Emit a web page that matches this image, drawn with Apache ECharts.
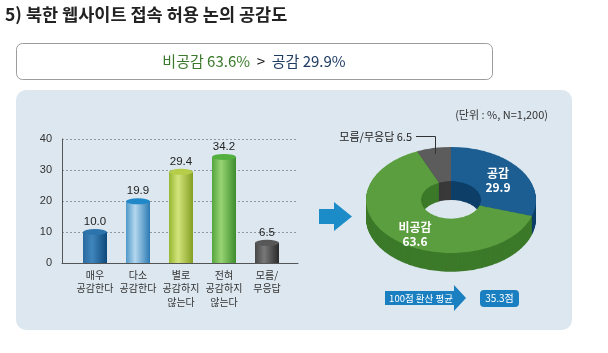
<!DOCTYPE html>
<html>
<head>
<meta charset="utf-8">
<script src="https://cdn.jsdelivr.net/npm/echarts@6/dist/echarts.min.js"></script>
<style>
  body { margin: 0; background: #fff; }
  #wrap { position: relative; width: 608px; height: 353px; }
  #main { position: absolute; left: 0; top: 0; width: 608px; height: 353px; }
  #pie { position: absolute; left: 351px; top: 130px; width: 200px; height: 240px;
         transform: scaleY(0.624); transform-origin: 0 0; }
  #labels { position: absolute; left: 0; top: 0; width: 608px; height: 353px; }
</style>
</head>
<body>
<div id="wrap">
  <div id="main"></div>
  <div id="pie"></div>
  <div id="labels"></div>
</div>
<script>
var categories = ['매우\n공감한다', '다소\n공감한다', '별로\n공감하지\n않는다', '전혀\n공감하지\n않는다', '모름/\n무응답'];
var barValues = [10.0, 19.9, 29.4, 34.2, 6.5];
var yTicks = [0, 10, 20, 30, 40];

var pieNames = ['공감', '비공감', '모름/무응답'];
var pieValues = [29.9, 63.6, 6.5];
var avgScore = 35.3;

var FONT = '"Noto Sans CJK KR", "Noto Sans", sans-serif';
var NUMFONT = '"Liberation Sans", Arial, sans-serif';

// cylinder colors: [left, highlight, right, top]
var barColors = [
    ['#2a69a0', '#3f86bc', '#0f477a', '#2d74ad'],
    ['#4f98c9', '#b4d7ee', '#2a7ab2', '#1f88c8'],
    ['#97b733', '#d3e47c', '#849f22', '#b5cd48'],
    ['#55a53e', '#98d474', '#3d8c2c', '#54af41'],
    ['#464646', '#787878', '#2a2a2a', '#575757']
];
var pieTop = ['#1c5e92', '#5b9e3f', '#5c5c5c'];
var pieSide = ['#0e3f69', '#3c7a2a', '#393939'];

function cyl(c) {
    return new echarts.graphic.LinearGradient(0, 0, 1, 0, [
        { offset: 0, color: c[0] },
        { offset: 0.38, color: c[1] },
        { offset: 1, color: c[2] }
    ]);
}

var main = echarts.init(document.getElementById('main'), null, { renderer: 'canvas' });
main.setOption({
    animation: false,
    graphic: [
        { type: 'rect', z: -100, shape: { x: 16, y: 90, width: 556, height: 240, r: 10 },
          style: { fill: '#dce7ef' } },
        { type: 'text', left: 5, top: 6,
          style: { text: '5) 북한 웹사이트 접속 허용 논의 공감도', font: 'bold 17.5px ' + FONT, fill: '#222' } },
        { type: 'rect', shape: { x: 16.5, y: 43.5, width: 476, height: 36, r: 6 },
          style: { fill: '#fff', stroke: '#9c9c9c', lineWidth: 1 } },
        { type: 'text', x: 254, y: 61,
          style: {
              text: '{g|' + pieNames[1] + ' ' + pieValues[1].toFixed(1) + '%}  {k|>}  {b|' + pieNames[0] + ' ' + pieValues[0].toFixed(1) + '%}',
              align: 'center', verticalAlign: 'middle',
              rich: {
                  g: { font: '15px ' + FONT, fill: '#3b7a2c' },
                  k: { font: '15px ' + FONT, fill: '#222' },
                  b: { font: '15px ' + FONT, fill: '#1f3b63' }
              }
          } },
        { type: 'text', x: 548, y: 115,
          style: { text: '(단위 : %, N=1,200)', align: 'right', verticalAlign: 'middle', font: '11px ' + FONT, fill: '#333' } },
        { type: 'polygon', shape: { points: [[319, 209], [334, 209], [334, 202], [352, 216.5], [334, 231], [334, 224], [319, 224]] },
          style: { fill: '#1b8cc7' } },
        { type: 'polygon', shape: { points: [[385, 291], [454, 291], [454, 285], [466, 298], [454, 311], [454, 305], [385, 305]] },
          style: { fill: '#1a7fc0' } },
        { type: 'text', x: 421, y: 298,
          style: { text: '100점 환산 평균', align: 'center', verticalAlign: 'middle', font: '9.5px ' + FONT, fill: '#fff' } },
        { type: 'rect', shape: { x: 480, y: 290, width: 39, height: 17, r: 4 },
          style: { fill: '#1a7fc0' } },
        { type: 'text', x: 499.5, y: 298.5,
          style: { text: avgScore.toFixed(1) + '점', align: 'center', verticalAlign: 'middle', font: '10px ' + FONT, fill: '#fff' } }
    ],
    grid: [
        { left: 73.5, right: 319.5, top: 139, bottom: 90 },
        { left: 62, right: 310, top: 139, bottom: 90 }
    ],
    xAxis: [
        {
            gridIndex: 0, type: 'category', data: categories,
            axisLine: { show: false }, axisTick: { show: false },
            axisLabel: { margin: 5, fontSize: 10, lineHeight: 13.5, color: '#333', fontFamily: FONT, interval: 0 }
        },
        {
            gridIndex: 1, type: 'value', min: 0, max: 1,
            axisLine: { show: true, lineStyle: { color: '#555', width: 1 } },
            axisTick: { show: false }, axisLabel: { show: false }, splitLine: { show: false }
        }
    ],
    yAxis: [
        { gridIndex: 0, type: 'value', min: 0, max: 40, show: false },
        {
            gridIndex: 1, type: 'value', min: yTicks[0], max: yTicks[yTicks.length - 1], interval: 10,
            axisLine: { show: true, lineStyle: { color: '#555', width: 1 } },
            axisTick: { show: false },
            axisLabel: { margin: 10, fontSize: 11, color: '#333', fontFamily: NUMFONT },
            splitLine: { show: true, lineStyle: { color: '#8d98a2', type: [2, 2], width: 1 } }
        }
    ],
    series: [
        {
            type: 'bar', xAxisIndex: 0, yAxisIndex: 0, barWidth: 24, z: 3,
            data: barValues.map(function (v, i) {
                return { value: v, itemStyle: { color: cyl(barColors[i]) } };
            }),
            label: {
                show: true, position: 'top', distance: 4,
                fontSize: 11.5, color: '#222', fontFamily: NUMFONT,
                formatter: function (p) { return p.value.toFixed(1); }
            }
        },
        {
            type: 'pictorialBar', xAxisIndex: 0, yAxisIndex: 0, z: 4,
            symbol: 'circle', symbolSize: [24, 6], symbolPosition: 'end', symbolOffset: [0, '-50%'],
            data: barValues.map(function (v, i) {
                return { value: v, itemStyle: { color: barColors[i][3] } };
            })
        }
    ]
});

// donut: stacked pies in a vertically squashed box
var pie = echarts.init(document.getElementById('pie'));
var cy = 112, depth = 30;
var pieSeries = [];
for (var k = depth; k >= 1; k--) {
    pieSeries.push({
        type: 'pie', silent: true, z: depth - k + 1,
        center: [100, cy + k], radius: [30, 85],
        label: { show: false }, labelLine: { show: false },
        data: pieValues.map(function (v, i) {
            return { value: v, name: pieNames[i], itemStyle: { color: pieSide[i] } };
        })
    });
}
pieSeries.push({
    type: 'pie', silent: true, z: depth + 5,
    center: [100, cy], radius: [30, 85],
    label: { show: false }, labelLine: { show: false },
    data: pieValues.map(function (v, i) {
        return { value: v, name: pieNames[i], itemStyle: { color: pieTop[i] } };
    })
});
pie.setOption({ animation: false, series: pieSeries });

// donut labels, unscaled
var labels = echarts.init(document.getElementById('labels'));
labels.setOption({
    animation: false,
    graphic: [
        { type: 'text', x: 498, y: 180,
          style: { text: pieNames[0] + '\n' + pieValues[0].toFixed(1), align: 'center', verticalAlign: 'middle',
                   font: 'bold 12px ' + FONT, lineHeight: 14, fill: '#fff' } },
        { type: 'text', x: 415, y: 234,
          style: { text: pieNames[1] + '\n' + pieValues[1].toFixed(1), align: 'center', verticalAlign: 'middle',
                   font: 'bold 12px ' + FONT, lineHeight: 14, fill: '#fff' } },
        { type: 'text', x: 412, y: 137,
          style: { text: pieNames[2] + ' ' + pieValues[2].toFixed(1), align: 'right', verticalAlign: 'middle',
                   font: '11px ' + FONT, fill: '#222' } },
        { type: 'polyline', shape: { points: [[416, 136.5], [435.5, 136.5], [435.5, 154]] },
          style: { stroke: '#333', lineWidth: 1, fill: null } }
    ]
});
</script>
</body>
</html>
